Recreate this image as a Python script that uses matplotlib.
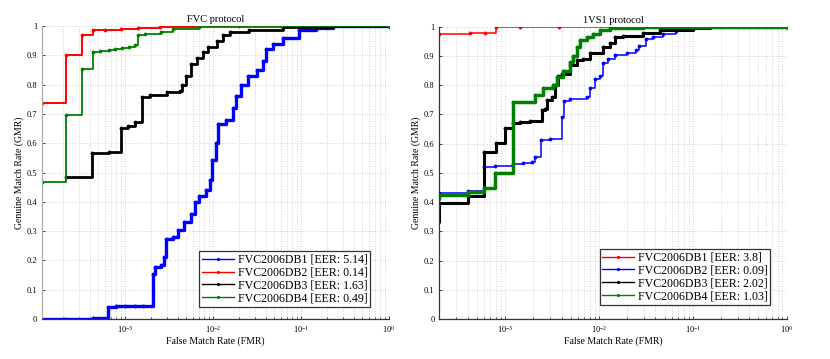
import numpy as np
import matplotlib
matplotlib.use("Agg")
import matplotlib.pyplot as plt

plt.rcParams["font.family"] = ["Liberation Serif", "DejaVu Serif"]
plt.rcParams["mathtext.fontset"] = "stix"

# ---- FVC protocol (left) ----
fvc_db1_fmr = [1.0e-4, 2.1e-4, 4.3e-4, 6.4e-4, 8e-4, 1.0e-3, 1.3e-3, 1.6e-3, 2.08e-3, 2.2e-3,
               2.55e-3, 2.78e-3, 2.9e-3, 3.5e-3, 4.0e-3, 4.7e-3, 5.6e-3, 6.2e-3, 6.9e-3, 8.3e-3,
               9.3e-3, 9.7e-3, 1.08e-2, 1.15e-2, 1.41e-2, 1.68e-2, 1.83e-2, 2.09e-2, 2.5e-2, 3.2e-2,
               3.7e-2, 4.0e-2, 4.8e-2, 6.2e-2, 9.5e-2, 0.148, 0.23, 1.0]
fvc_db1_gmr = [0.0, 0.0, 0.003, 0.042, 0.043, 0.043, 0.044, 0.046, 0.152, 0.176,
               0.185, 0.213, 0.272, 0.28, 0.304, 0.33, 0.36, 0.40, 0.42, 0.44,
               0.474, 0.543, 0.60, 0.664, 0.68, 0.72, 0.76, 0.80, 0.83, 0.85,
               0.88, 0.92, 0.94, 0.96, 0.985, 0.995, 1.0, 1.0]

fvc_db2_fmr = [1.0e-4, 1.14e-4, 2.14e-4, 3.26e-4, 4.3e-4, 6e-4, 9e-4, 1.4e-3, 2.5e-3, 6.9e-3, 2e-2, 1.0]
fvc_db2_gmr = [0.588, 0.736, 0.901, 0.968, 0.986, 0.988, 0.99, 0.993, 0.996, 0.999, 1.0, 1.0]

fvc_db3_fmr = [2.14e-4, 4.2e-4, 6.5e-4, 8.9e-4, 1.09e-3, 1.3e-3, 1.55e-3, 1.92e-3, 2.98e-3, 4.2e-3,
               4.5e-3, 5.0e-3, 5.7e-3, 6.5e-3, 7.8e-3, 8.8e-3, 1.1e-2, 1.3e-2, 1.56e-2, 2.6e-2,
               6.2e-2, 0.23, 1.0]
fvc_db3_gmr = [0.486, 0.568, 0.570, 0.651, 0.66, 0.673, 0.759, 0.765, 0.775, 0.78,
               0.80, 0.83, 0.87, 0.89, 0.91, 0.93, 0.95, 0.97, 0.98, 0.988,
               0.997, 1.0, 1.0]

fvc_db4_fmr = [1.0e-4, 1.14e-4, 2.14e-4, 3.26e-4, 4.3e-4, 5.2e-4, 6.6e-4, 7.8e-4, 9.3e-4, 1.1e-3,
               1.3e-3, 1.4e-3, 1.7e-3, 2.6e-3, 3.5e-3, 6.9e-3, 6e-2, 1.0]
fvc_db4_gmr = [0.329, 0.469, 0.696, 0.855, 0.912, 0.915, 0.917, 0.92, 0.925, 0.93,
               0.935, 0.968, 0.972, 0.98, 0.99, 0.997, 1.0, 1.0]

fvc_labels = ["FVC2006DB1 [EER: 5.14]", "FVC2006DB2 [EER: 0.14]",
              "FVC2006DB3 [EER: 1.63]", "FVC2006DB4 [EER: 0.49]"]

# ---- 1VS1 protocol (right) ----
one_db1_fmr = [1.5e-4, 2.0e-4, 4.2e-4, 6.1e-4, 8.0e-4, 1.44e-3, 3.8e-3, 1.0]
one_db1_gmr = [0.975, 0.977, 0.978, 0.979, 0.998, 0.999, 1.0, 1.0]

one_db2_fmr = [1.5e-4, 2.0e-4, 4.0e-4, 6.0e-4, 7.8e-4, 1.22e-3, 1.57e-3, 1.92e-3, 2.09e-3, 2.4e-3,
               3.0e-3, 4.0e-3, 4.3e-3, 4.9e-3, 7.4e-3, 8.0e-3, 9.1e-3, 1.03e-2, 1.11e-2, 1.26e-2,
               1.48e-2, 1.98e-2, 2.5e-2, 2.7e-2, 3.2e-2, 3.8e-2, 4.85e-2, 6.7e-2, 0.101, 0.152, 1.0]
one_db2_gmr = [0.156, 0.43, 0.437, 0.52, 0.522, 0.529, 0.535, 0.538, 0.555, 0.612,
               0.615, 0.69, 0.745, 0.753, 0.76, 0.789, 0.823, 0.83, 0.875, 0.89,
               0.903, 0.91, 0.92, 0.935, 0.957, 0.965, 0.975, 0.985, 0.995, 1.0, 1.0]

one_db3_fmr = [1.5e-4, 2.0e-4, 4.0e-4, 6.0e-4, 8.0e-4, 1.0e-3, 1.21e-3, 1.45e-3, 1.85e-3, 2.46e-3,
               2.67e-3, 2.78e-3, 3.14e-3, 3.4e-3, 3.7e-3, 4.0e-3, 4.9e-3, 5.8e-3, 6.8e-3, 8.0e-3,
               1.11e-2, 1.31e-2, 1.48e-2, 1.82e-2, 2.97e-2, 4.47e-2, 0.1, 0.152, 1.0]
one_db3_gmr = [0.333, 0.398, 0.421, 0.572, 0.601, 0.652, 0.672, 0.674, 0.677, 0.715,
               0.72, 0.749, 0.76, 0.80, 0.83, 0.84, 0.87, 0.886, 0.89, 0.909,
               0.93, 0.945, 0.966, 0.97, 0.98, 0.99, 0.997, 1.0, 1.0]

one_db4_fmr = [1.5e-4, 2.0e-4, 4.0e-4, 6.0e-4, 7.9e-4, 1.21e-3, 2.09e-3, 2.57e-3, 3.27e-3, 3.55e-3,
               4.17e-3, 4.9e-3, 5.3e-3, 5.8e-3, 6.3e-3, 7.4e-3, 8.7e-3, 1.02e-2, 1.31e-2, 2.95e-2,
               0.1, 1.0]
one_db4_gmr = [0.41, 0.424, 0.433, 0.447, 0.498, 0.743, 0.766, 0.789, 0.80, 0.829,
               0.85, 0.88, 0.90, 0.932, 0.954, 0.965, 0.977, 0.99, 0.995, 0.998,
               1.0, 1.0]

one_labels = ["FVC2006DB1 [EER: 3.8]", "FVC2006DB2 [EER: 0.09]",
              "FVC2006DB3 [EER: 2.02]", "FVC2006DB4 [EER: 1.03]"]

fig = plt.figure(figsize=(8.3, 3.59), dpi=100)
ax1 = fig.add_axes([0.0506, 0.1114, 0.418, 0.816])
ax2 = fig.add_axes([0.5293, 0.1114, 0.4186, 0.814])


def setup_axes(ax, title, xmin):
    ax.set_xscale("log")
    ax.set_xlim(xmin, 1)
    ax.set_ylim(0, 1)
    ax.set_yticks(np.arange(0, 1.01, 0.1))
    ax.set_yticklabels(["0", "0.1", "0.2", "0.3", "0.4", "0.5", "0.6", "0.7", "0.8", "0.9", "1"])
    ax.grid(True, which="major", ls=(0, (1, 2)), color="#c4c4c4", lw=0.6)
    ax.grid(True, which="minor", axis="x", ls=(0, (1, 2)), color="#c4c4c4", lw=0.6)
    ax.tick_params(which="both", direction="in", labelsize=6, length=2.5, width=0.5,
                   top=False, right=False)
    ax.tick_params(which="minor", length=1.5)
    ax.spines["top"].set_visible(False)
    ax.spines["right"].set_visible(False)
    for s in ["left", "bottom"]:
        ax.spines[s].set_linewidth(0.9)
        ax.spines[s].set_color("#333333")
    ax.set_title(title, fontsize=7.5, pad=3)
    ax.set_xlabel("False Match Rate (FMR)", fontsize=7, labelpad=1)
    ax.set_ylabel("Genuine Match Rate (GMR)", fontsize=7, labelpad=2)


def add_legend(ax, handles, labels, anchor):
    leg = ax.legend(handles, labels, loc="lower right", bbox_to_anchor=anchor, fontsize=8.6,
                    fancybox=False, framealpha=1, edgecolor="#333333",
                    handlelength=2.7, handletextpad=0.3, borderpad=0.2,
                    labelspacing=0.08, borderaxespad=0)
    leg.get_frame().set_linewidth(0.9)
    for ln in leg.get_lines():
        ln.set_linewidth(1.0)
        ln.set_markersize(2.5)


# left panel
setup_axes(ax1, "FVC protocol", 1.14e-4)
l1, = ax1.plot(fvc_db1_fmr, fvc_db1_gmr, color="#0000ff", lw=2.4, marker=".", ms=3.5, drawstyle="steps-post")
l2, = ax1.plot(fvc_db2_fmr, fvc_db2_gmr, color="#ff0000", lw=1.4, marker=".", ms=3.5, drawstyle="steps-post")
l3, = ax1.plot(fvc_db3_fmr, fvc_db3_gmr, color="#000000", lw=2.0, marker=".", ms=3.5, drawstyle="steps-post")
l4, = ax1.plot(fvc_db4_fmr, fvc_db4_gmr, color="#008000", lw=1.3, marker=".", ms=3.5, drawstyle="steps-post")
ax1.spines["left"].set_color("#aaaaaa")
add_legend(ax1, [l1, l2, l3, l4], fvc_labels, (0.945, 0.041))

# right panel
setup_axes(ax2, "1VS1 protocol", 2.0e-4)
r2, = ax2.plot(one_db2_fmr, one_db2_gmr, color="#0000ff", lw=1.1, marker=".", ms=3.5, drawstyle="steps-post")
r1, = ax2.plot(one_db1_fmr, one_db1_gmr, color="#ff0000", lw=1.1, marker=".", ms=3.5, drawstyle="steps-post")
r3, = ax2.plot(one_db3_fmr, one_db3_gmr, color="#000000", lw=2.2, marker=".", ms=3.5, drawstyle="steps-post")
r4, = ax2.plot(one_db4_fmr, one_db4_gmr, color="#008000", lw=2.5, marker=".", ms=3.5, drawstyle="steps-post")
add_legend(ax2, [r1, r2, r3, r4], one_labels, (0.952, 0.048))

fig.savefig("out.png", dpi=100)
